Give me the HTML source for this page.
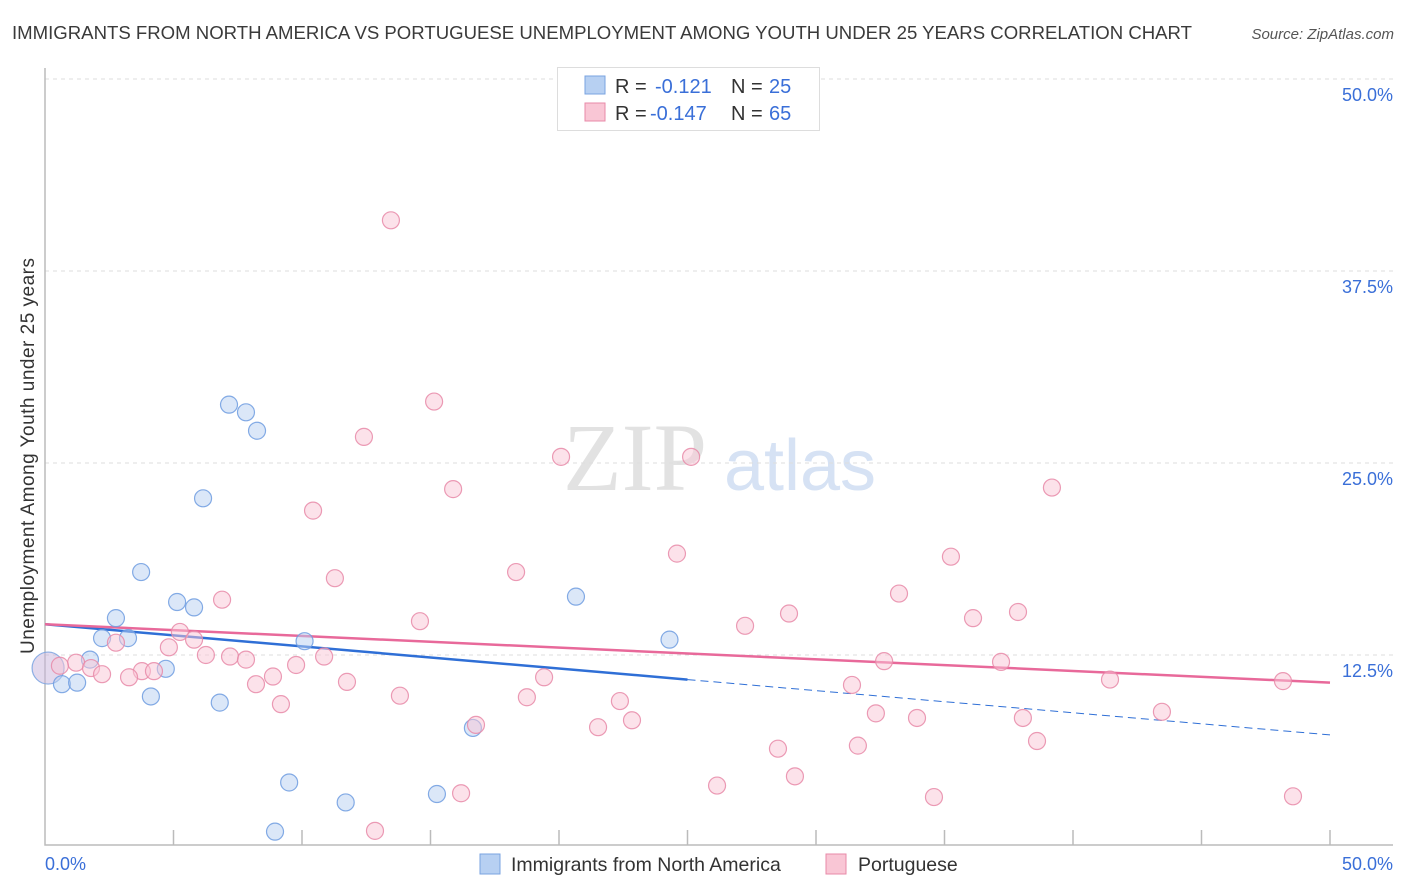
<!DOCTYPE html>
<html><head><meta charset="utf-8"><style>
body{margin:0;background:#fff;font-family:"Liberation Sans",sans-serif;}
svg{display:block}
</style></head><body>
<svg id="chart" width="1406" height="892">
<text x="12" y="39" font-size="18.6" fill="#3a3a3a" textLength="1180">IMMIGRANTS FROM NORTH AMERICA VS PORTUGUESE UNEMPLOYMENT AMONG YOUTH UNDER 25 YEARS CORRELATION CHART</text>
<text x="1394" y="39" font-size="15" fill="#555" font-style="italic" text-anchor="end">Source: ZipAtlas.com</text>
<text x="0" y="0" transform="translate(34,456) rotate(-90)" font-size="19" fill="#333" text-anchor="middle" textLength="396">Unemployment Among Youth under 25 years</text>
<g><text x="635" y="490" font-size="96" font-family="Liberation Serif,serif" fill="#e2e2e2" text-anchor="middle">ZIP</text><text x="800" y="490" font-size="72" fill="#d6e2f4" text-anchor="middle">atlas</text></g>
<g id="grid"></g><g id="axes"></g><g id="trends"></g><g id="points"></g>
<g>
<rect x="557.5" y="67.5" width="262" height="63" fill="#fff" stroke="#ddd"/>
<rect x="585" y="76" width="20" height="18" fill="#b7d0f2" stroke="#7aa3e0"/>
<rect x="585" y="103" width="20" height="18" fill="#f9c6d5" stroke="#e88aa8"/>
<text y="93" font-size="20"><tspan x="615" fill="#333">R = </tspan><tspan x="655" fill="#3a6fd8">-0.121</tspan><tspan x="731" fill="#333">N = </tspan><tspan x="769" fill="#3a6fd8">25</tspan></text>
<text y="120" font-size="20"><tspan x="615" fill="#333">R = </tspan><tspan x="650" fill="#3a6fd8">-0.147</tspan><tspan x="731" fill="#333">N = </tspan><tspan x="769" fill="#3a6fd8">65</tspan></text>
</g>
<g>
<rect x="480" y="854" width="20" height="20" fill="#b7d0f2" stroke="#7aa3e0"/>
<text x="511" y="871" font-size="19.5" fill="#333">Immigrants from North America</text>
<rect x="826" y="854" width="20" height="20" fill="#f9c6d5" stroke="#e88aa8"/>
<text x="858" y="871" font-size="19.5" fill="#333">Portuguese</text>
</g>
</svg>
<script>
const yTicks=[12.5,25,37.5,50];
const yTickLabels=["12.5%","25.0%","37.5%","50.0%"];
const xTicks=[5,10,15,20,25,30,35,40,45,50];
const xTickLabels=["0.0%","50.0%"];
const blueX=[2.76,3.74,2.22,3.23,1.75,0.66,1.25,4.12,5.14,5.8,4.7,6.15,7.16,7.82,8.25,6.8,10.1,9.5,8.95,11.7,15.25,16.65,20.66,24.3];
const blueY=[14.9,17.9,13.6,13.6,12.2,10.6,10.7,9.8,15.95,15.6,11.6,22.7,28.8,28.3,27.1,9.4,13.4,4.2,1.0,2.9,3.45,7.75,16.3,13.5];
const blueBigX=[0.12];
const blueBigY=[11.65];
const pinkX=[13.46,15.14,12.41,20.08,25.14,15.88,39.18,10.43,24.59,35.25,18.33,11.28,6.89,33.23,28.95,37.86,14.59,36.11,27.24,5.25,5.8,2.76,4.82,6.26,7.2,7.82,1.21,1.79,0.58,9.77,10.86,3.77,4.24,2.22,3.27,8.87,32.65,37.2,19.42,11.75,8.21,31.4,41.44,48.17,13.81,18.75,22.37,9.18,32.33,43.46,33.93,22.84,38.05,16.77,21.52,38.6,31.63,28.52,29.18,26.15,16.19,34.59,48.56,12.84];
const pinkY=[40.8,29.0,26.7,25.4,25.4,23.3,23.4,21.9,19.1,18.9,17.9,17.5,16.1,16.5,15.2,15.3,14.7,14.9,14.4,14.0,13.5,13.3,13.0,12.5,12.4,12.2,12.0,11.65,11.8,11.85,12.4,11.45,11.45,11.25,11.05,11.1,12.1,12.05,11.05,10.75,10.6,10.55,10.9,10.8,9.85,9.75,9.5,9.3,8.7,8.8,8.4,8.25,8.4,7.95,7.8,6.9,6.6,6.4,4.6,4.0,3.5,3.25,3.3,1.05];
const blueTrend=[14.5,7.3];
const pinkTrend=[14.5,10.7];
const X=v=>45+v*25.7, Y=v=>847-v*15.36;
const NS="http://www.w3.org/2000/svg";
function mk(p,t,a){const e=document.createElementNS(NS,t);for(const k in a)e.setAttribute(k,a[k]);p.appendChild(e);return e;}
const grid=document.getElementById('grid'),axes=document.getElementById('axes'),tr=document.getElementById('trends'),pts=document.getElementById('points');
yTicks.forEach((t,i)=>{
 const l=mk(grid,'line',{x1:45,x2:1393,y1:Y(t),y2:Y(t),stroke:'#ddd','stroke-dasharray':'4,4'});
 
 
 const tx=mk(grid,'text',{x:1393,y:Y(t)+22,'font-size':18,fill:'#3a6fd8','text-anchor':'end'});
 tx.textContent=yTickLabels[i];
 
 
});
const ax=mk(axes,'path',{d:'M45,68V845H1393',stroke:'#bbb',fill:'none','stroke-width':1.5});


xTicks.forEach(t=>{
 const l=mk(axes,'line',{x1:X(t),x2:X(t),y1:830,y2:845,stroke:'#bbb','stroke-width':1.5});
 
 
});
[[0,'start',45],[1,'end',1393]].forEach(([i,a,x])=>{
 const tx=mk(axes,'text',{x:x,y:870,'font-size':18,fill:'#3a6fd8','text-anchor':a});
 tx.textContent=xTickLabels[i];
 
 
});
function drawPts(xs,ys,r,fill,stroke,name){xs.forEach((x,i)=>{
 const c=mk(pts,'circle',{cx:X(x),cy:Y(ys[i]),r:r,fill:fill,'fill-opacity':0.5,stroke:stroke,'stroke-width':1.2,'stroke-opacity':0.85});
 
 
});}
drawPts(blueBigX,blueBigY,16,'#c7b3dc','#7aa3e0','blue-point-large');
drawPts(blueX,blueY,8.5,'#b7d0f2','#6f9ce0','blue-point');
drawPts(pinkX,pinkY,8.5,'#f9c6d5','#e88aa8','pink-point');
const bmid=blueTrend[0]+(blueTrend[1]-blueTrend[0])*0.5;
const b1=mk(tr,'line',{x1:X(0),y1:Y(blueTrend[0]),x2:X(25),y2:Y(bmid),stroke:'#2f6fd6','stroke-width':2.5});


const b2=mk(tr,'line',{x1:X(25),y1:Y(bmid),x2:X(50),y2:Y(blueTrend[1]),stroke:'#2f6fd6','stroke-width':1,'stroke-dasharray':'8,5'});


const p1=mk(tr,'line',{x1:X(0),y1:Y(pinkTrend[0]),x2:X(50),y2:Y(pinkTrend[1]),stroke:'#e8699a','stroke-width':2.5});


</script>
</body></html>
